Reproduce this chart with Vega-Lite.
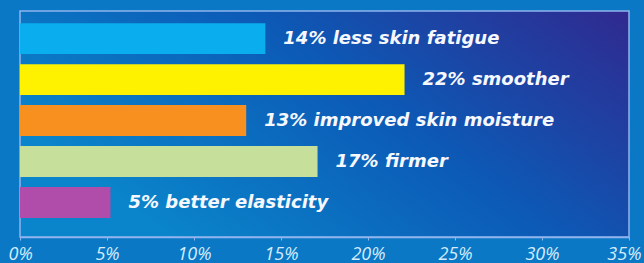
{
  "$schema": "https://vega.github.io/schema/vega-lite/v6.json",
  "width": 609,
  "height": 226,
  "autosize": {"type": "none"},
  "padding": {"left": 20, "top": 11, "right": 15, "bottom": 26},
  "background": "#0a78c4",
  "config": {
    "view": {
      "fill": {"gradient": "linear", "x1": 0, "y1": 0.5, "x2": 1, "y2": 0,
        "stops": [{"offset": 0, "color": "#0a84ca"}, {"offset": 0.5, "color": "#0c5ab6"}, {"offset": 1, "color": "#30298f"}]},
      "stroke": "#8fb4ee",
      "strokeWidth": 1.5
    }
  },
  "data": {
    "values": [
      {"label": "14% less skin fatigue", "value": 14.1, "order": 1, "color": "#0aaeee"},
      {"label": "22% smoother", "value": 22.1, "order": 2, "color": "#fff200"},
      {"label": "13% improved skin moisture", "value": 13.0, "order": 3, "color": "#f7901e"},
      {"label": "17% firmer", "value": 17.1, "order": 4, "color": "#c6e09c"},
      {"label": "5% better elasticity", "value": 5.2, "order": 5, "color": "#b04caa"}
    ]
  },
  "encoding": {
    "y": {
      "field": "order", "type": "ordinal", "sort": "ascending",
      "scale": {"paddingInner": 0.245, "paddingOuter": 0.38, "align": 0.39},
      "axis": null
    }
  },
  "layer": [
    {
      "mark": {"type": "bar"},
      "encoding": {
        "x": {
          "field": "value", "type": "quantitative",
          "scale": {"domain": [0, 35], "nice": false},
          "axis": {
            "values": [0, 5, 10, 15, 20, 25, 30, 35],
            "labelExpr": "datum.value + '%'",
            "title": null,
            "grid": false,
            "domainColor": "#8fb4ee",
            "domainWidth": 1.5,
            "tickColor": "#8fb4ee",
            "tickSize": 3,
            "labelColor": "#d4ecff",
            "labelFont": "Open Sans",
            "labelFontStyle": "italic",
            "labelFontSize": 18,
            "labelPadding": 5,
            "labelFlush": true,
            "labelFlushOffset": 12
          }
        },
        "color": {"field": "color", "type": "nominal", "scale": null}
      }
    },
    {
      "mark": {"type": "text", "align": "left", "baseline": "middle", "dx": 18, "dy": 0,
        "font": "DejaVu Sans", "fontStyle": "italic", "fontWeight": "bold", "fontSize": 18, "color": "#f6f8ff"},
      "encoding": {
        "x": {"field": "value", "type": "quantitative"},
        "text": {"field": "label", "type": "nominal"}
      }
    }
  ]
}
